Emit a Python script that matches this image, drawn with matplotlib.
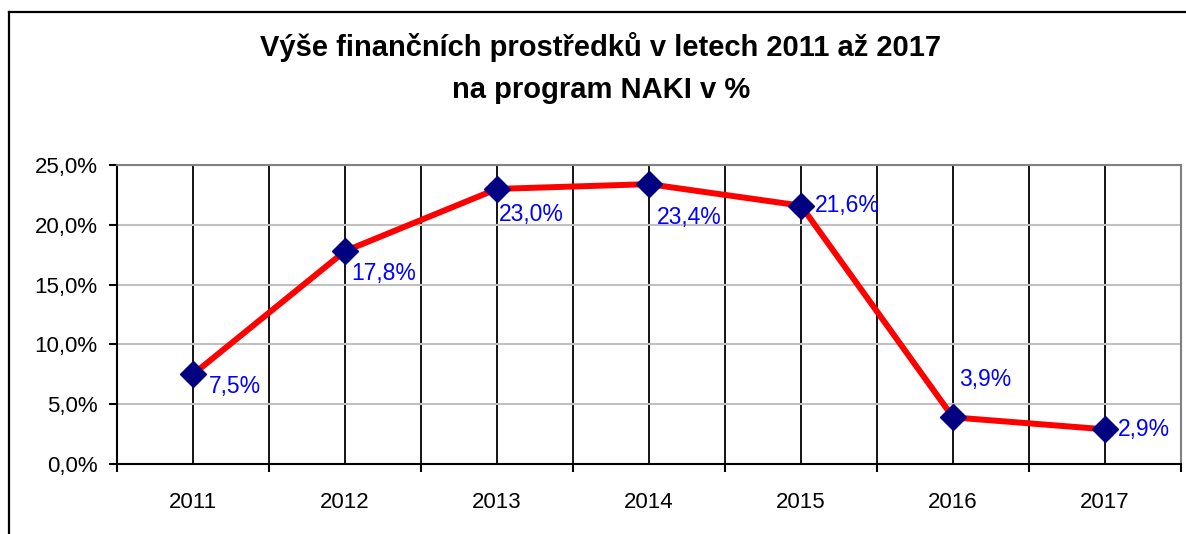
import matplotlib
matplotlib.use("Agg")
import matplotlib.pyplot as plt
from matplotlib.lines import Line2D
from matplotlib.ticker import FuncFormatter, FixedLocator
import numpy as np

# data
years = ["2011", "2012", "2013", "2014", "2015", "2016", "2017"]
values = [7.5, 17.8, 23.0, 23.4, 21.6, 3.9, 2.9]
# label offsets (px) relative to each point
label_dx = [16, 6, 2, 8, 14, 6, 13]
label_dy = [-12, -22, -26, -33, 0, 38, 0]

plt.rcParams['font.family'] = ['Liberation Sans', 'DejaVu Sans']

fig = plt.figure(figsize=(11.86, 5.34), dpi=100)
ax = fig.add_axes([117 / 1186, 1 - 464 / 534, (1181 - 117) / 1186, (464 - 165) / 534])

x = np.arange(len(years))
ax.plot(x, values, color='#ff0000', lw=4.3, zorder=3, solid_capstyle='round')
ax.plot(x, values, ls='none', marker='D', markersize=13, color='#000080', zorder=4)

for xi, v, dx, dy in zip(x, values, label_dx, label_dy):
    ax.annotate(f"{v:.1f}%".replace('.', ','), (xi, v), xytext=(dx * 0.72, dy * 0.72),
                textcoords='offset points', ha='left', va='center',
                fontsize=16.5, color='#0000ff', zorder=5)

ax.set_xlim(-0.5, len(years) - 0.5)
ax.set_ylim(0, 25)
ax.set_yticks(np.arange(0, 26, 5))
ax.yaxis.set_major_formatter(FuncFormatter(lambda v, p: f"{v:.1f}%".replace('.', ',')))
ax.set_xticks(x)
ax.set_xticklabels(years)
ax.xaxis.set_minor_locator(FixedLocator(np.arange(-0.5, len(years), 1.0)))

ax.tick_params(axis='y', direction='out', length=6, width=1.5, labelsize=16, pad=8)
ax.tick_params(axis='x', which='major', length=0, labelsize=16, pad=20)
ax.tick_params(axis='x', which='minor', direction='out', length=6, width=1.5)

ax.grid(axis='y', color='#c0c0c0', lw=1.5, zorder=1)
ax.grid(axis='x', which='both', color='black', lw=1.3, zorder=1)
ax.set_axisbelow(True)

ax.spines['left'].set_color('black')
ax.spines['left'].set_linewidth(1.5)
ax.spines['bottom'].set_color('black')
ax.spines['bottom'].set_linewidth(1.5)
ax.spines['top'].set_color('#808080')
ax.spines['top'].set_linewidth(1.5)
ax.spines['right'].set_color('#808080')
ax.spines['right'].set_linewidth(1.5)

fig.text(601 / 1186, 1 - 68 / 534, "Výše finančních prostředků v letech 2011 až 2017\nna program NAKI v %",
         ha='center', va='center', fontsize=21, fontweight='bold', linespacing=1.6)

# outer chart frame (right and bottom cut off)
fig.add_artist(Line2D([8.5 / 1186, 8.5 / 1186], [0, 1 - 12 / 534], color='black', lw=1.6))
fig.add_artist(Line2D([8.5 / 1186, 1], [1 - 12 / 534, 1 - 12 / 534], color='black', lw=1.6))

plt.savefig("out.png", dpi=100)
